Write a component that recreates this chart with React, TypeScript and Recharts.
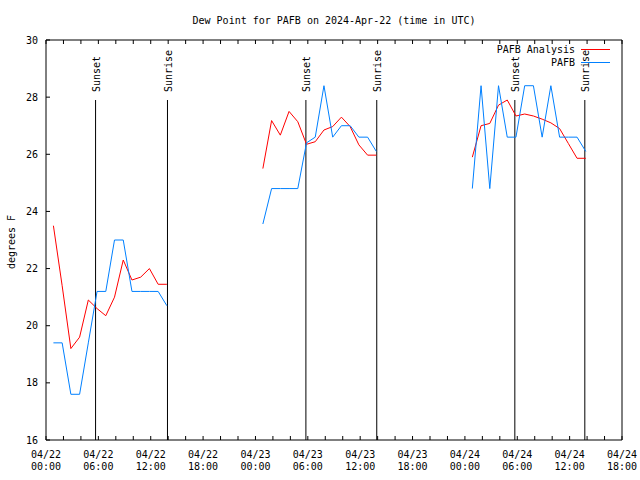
import React from "react";
import { LineChart, Line, XAxis, YAxis, ReferenceLine, Legend } from "recharts";

// hourly dew point (deg F), three blocks of reports, first report of each block (hour since 04/22 00Z)
const blockStartHours = [1, 25, 49];
const reportMinute = 51; // reports come in a little before the hour

const analysisBlocks = [
  [23.5, 21.4, 19.2, 19.6, 20.9, 20.6, 20.35, 21.0, 22.3, 21.6, 21.7, 22.0, 21.45, 21.45],
  [25.5, 27.18, 26.67, 27.5, 27.14, 26.35, 26.44, 26.85, 26.97, 27.3, 26.97, 26.33, 25.97, 25.97],
  [25.9, 27.0, 27.08, 27.72, 27.9, 27.34, 27.41, 27.34, 27.23, 27.1, 26.9, 26.38, 25.86, 25.86],
];

const observedBlocks = [
  [19.4, 19.4, 17.6, 17.6, 19.4, 21.2, 21.2, 23.0, 23.0, 21.2, 21.2, 21.2, 21.2, 20.7],
  [23.56, 24.8, 24.8, 24.8, 24.8, 26.4, 26.6, 28.4, 26.6, 27.0, 27.0, 26.6, 26.6, 26.1],
  [24.8, 28.4, 24.8, 28.4, 26.6, 26.6, 28.4, 28.4, 26.6, 28.4, 26.6, 26.6, 26.6, 26.1],
];

const RED = "#ff0000";
const BLUE = "#0080ff";
const seriesNames = ["PAFB Analysis", "PAFB"];
const seriesColors = [RED, BLUE];

const sunsetHours = [5.68, 29.78, 53.72];
const sunriseHours = [13.92, 37.9, 61.74];
const sunLineTop = 27.9;

const xTicks = [0, 2, 4, 6, 8, 10, 12, 14, 16, 18, 20, 22, 24, 26, 28, 30, 32, 34, 36, 38, 40, 42, 44, 46, 48, 50, 52, 54, 56, 58, 60, 62, 64, 66];
const labelHours = [0, 6, 12, 18, 24, 30, 36, 42, 48, 54, 60, 66];
const labelDates = ["04/22", "04/22", "04/22", "04/22", "04/23", "04/23", "04/23", "04/23", "04/24", "04/24", "04/24", "04/24"];
const labelTimes = ["00:00", "06:00", "12:00", "18:00", "00:00", "06:00", "12:00", "18:00", "00:00", "06:00", "12:00", "18:00"];
const yTicks = [16, 18, 20, 22, 24, 26, 28, 30];

const FONT = "'DejaVu Sans Mono', monospace";

// one table, with an empty row after each block so the lines break
const rows: { t: number; analysis: number | null; observed: number | null }[] = [];
blockStartHours.forEach((start, b) => {
  analysisBlocks[b].forEach((v, i) => {
    rows.push({ t: start + i - 1 + reportMinute / 60, analysis: v, observed: observedBlocks[b][i] });
  });
  rows.push({ t: start + analysisBlocks[b].length, analysis: null, observed: null });
});

const BottomTick = (props: any) => {
  const { x, y, payload } = props;
  const idx = labelHours.indexOf(payload.value);
  return (
    <g>
      <line x1={x} x2={x} y1={y} y2={y - 4} stroke="#000" />
      {idx >= 0 && (
        <text x={x} y={y + 18} textAnchor="middle" fontFamily={FONT} fontSize={10} fill="#000">
          <tspan x={x}>{labelDates[idx]}</tspan>
          <tspan x={x} dy={12}>{labelTimes[idx]}</tspan>
        </text>
      )}
    </g>
  );
};

const TopTick = (props: any) => {
  const { x, y } = props;
  return <line x1={x} x2={x} y1={y} y2={y + 4} stroke="#000" />;
};

const LeftTick = (props: any) => {
  const { x, y, payload } = props;
  return (
    <g>
      <line x1={x} x2={x + 4} y1={y} y2={y} stroke="#000" />
      <text x={x - 8} y={y + 3.5} textAnchor="end" fontFamily={FONT} fontSize={10} fill="#000">
        {payload.value}
      </text>
    </g>
  );
};

const RightTick = (props: any) => {
  const { x, y } = props;
  return <line x1={x} x2={x - 4} y1={y} y2={y} stroke="#000" />;
};

const sunLabel = (text: string) => (props: any) => {
  const vb = props.viewBox;
  const x = vb.x + 4.5;
  const y = vb.y - 8;
  return (
    <text x={x} y={y} transform={`rotate(-90 ${x} ${y})`} textAnchor="start" fontFamily={FONT} fontSize={10} fill="#000">
      {text}
    </text>
  );
};

const LegendBox = () => (
  <div style={{ fontFamily: FONT, fontSize: 10, lineHeight: "13px", color: "#000" }}>
    {seriesNames.map((name, i) => (
      <div key={name} style={{ display: "flex", justifyContent: "flex-end", alignItems: "center", height: 13 }}>
        <span>{name}</span>
        <svg width={36} height={13}>
          <line x1={6} x2={35} y1={6.5} y2={6.5} stroke={seriesColors[i]} />
        </svg>
      </div>
    ))}
  </div>
);

export default function App() {
  return (
    <div style={{ position: "absolute", left: 0, top: 0, width: 640, height: 480, background: "#fff" }}>
      <LineChart width={640} height={480} data={rows} margin={{ top: 0, right: 0, bottom: 0, left: 0 }}>
        <XAxis
          xAxisId="bottom"
          dataKey="t"
          type="number"
          domain={[0, 66]}
          ticks={xTicks}
          interval={0}
          height={40}
          tickSize={0}
          tickMargin={0}
          tickLine={false}
          axisLine={{ stroke: "#000" }}
          tick={<BottomTick />}
        />
        <XAxis
          xAxisId="top"
          orientation="top"
          dataKey="t"
          type="number"
          domain={[0, 66]}
          ticks={xTicks}
          interval={0}
          height={40}
          tickSize={0}
          tickMargin={0}
          tickLine={false}
          axisLine={{ stroke: "#000" }}
          tick={<TopTick />}
        />
        <YAxis
          yAxisId="left"
          type="number"
          domain={[16, 30]}
          ticks={yTicks}
          interval={0}
          width={46}
          tickSize={0}
          tickMargin={0}
          tickLine={false}
          axisLine={{ stroke: "#000" }}
          tick={<LeftTick />}
        />
        <YAxis
          yAxisId="right"
          orientation="right"
          type="number"
          domain={[16, 30]}
          ticks={yTicks}
          interval={0}
          width={18}
          tickSize={0}
          tickMargin={0}
          tickLine={false}
          axisLine={{ stroke: "#000" }}
          tick={<RightTick />}
        />
        {sunsetHours.map((h) => (
          <ReferenceLine
            key={"ss" + h}
            xAxisId="bottom"
            yAxisId="left"
            segment={[{ x: h, y: 16 }, { x: h, y: sunLineTop }]}
            stroke="#000"
            label={{ content: sunLabel("Sunset") }}
          />
        ))}
        {sunriseHours.map((h) => (
          <ReferenceLine
            key={"sr" + h}
            xAxisId="bottom"
            yAxisId="left"
            segment={[{ x: h, y: 16 }, { x: h, y: sunLineTop }]}
            stroke="#000"
            label={{ content: sunLabel("Sunrise") }}
          />
        ))}
        <Line
          xAxisId="bottom"
          yAxisId="left"
          type="linear"
          dataKey="analysis"
          name={seriesNames[0]}
          stroke={RED}
          strokeWidth={1}
          dot={false}
          activeDot={false}
          isAnimationActive={false}
        />
        <Line
          xAxisId="bottom"
          yAxisId="left"
          type="linear"
          dataKey="observed"
          name={seriesNames[1]}
          stroke={BLUE}
          strokeWidth={1}
          dot={false}
          activeDot={false}
          isAnimationActive={false}
        />
        <Legend
          layout="horizontal"
          verticalAlign="middle"
          align="center"
          content={<LegendBox />}
          wrapperStyle={{ top: 43, right: 29, left: "auto", bottom: "auto", width: "auto" }}
        />
        <text x={334} y={23.5} textAnchor="middle" fontFamily={FONT} fontSize={10} fill="#000">
          Dew Point for PAFB on 2024-Apr-22 (time in UTC)
        </text>
        <text x={15} y={242} transform="rotate(-90 15 242)" textAnchor="middle" fontFamily={FONT} fontSize={10} fill="#000">
          degrees F
        </text>
      </LineChart>
    </div>
  );
}
